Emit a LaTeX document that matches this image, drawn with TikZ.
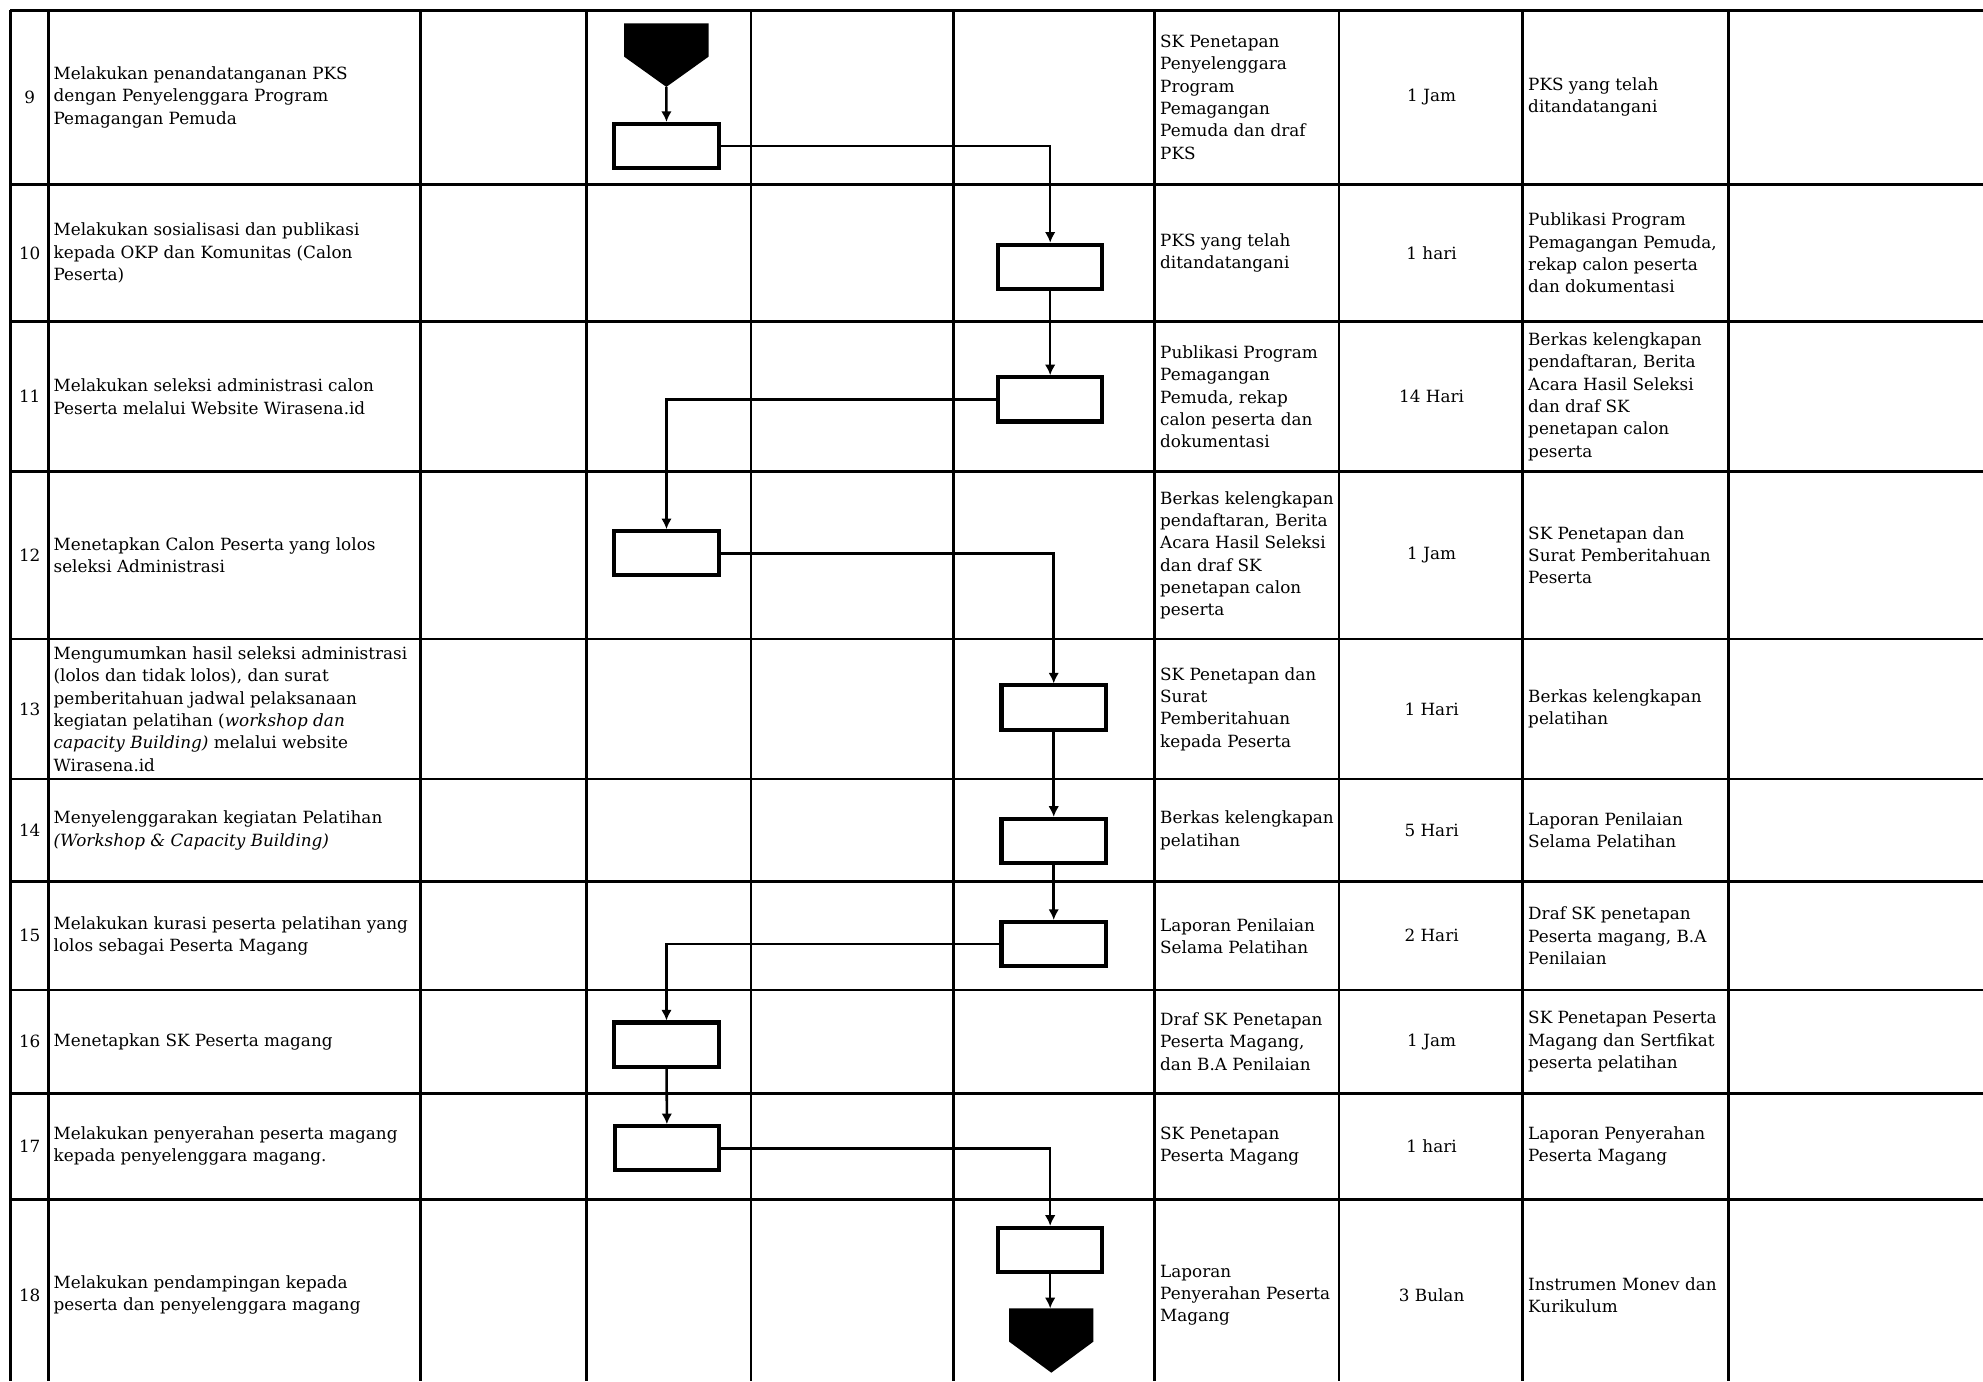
\documentclass[tikz,border=0pt]{standalone}
\usepackage{fontspec}
\setmainfont{DejaVu Serif}
\usetikzlibrary{arrows.meta,calc}

\begin{document}
\begin{tikzpicture}[
    x=0.5pt,y=-0.5pt,>={Latex[length=4.2pt,width=4.2pt]},
    grid/.style={line width=1.1pt},
    box/.style={rectangle,draw,line width=1.6pt,minimum width=41.3pt,minimum height=17.5pt,inner sep=0pt},
    txt/.style={anchor=west,align=left,inner sep=0pt,font=\fontsize{6.65}{8.8}\selectfont},
    ctr/.style={align=center,inner sep=0pt,font=\fontsize{6.65}{8.8}\selectfont},
    offpage/.style={fill=black}]
    \useasboundingbox (0,0) rectangle (1568,1092);

    % table
    \foreach \gx in {8,38.3,332.7,463.8,593.8,753.8,912.9,1058.7,1204.1,1366.9}
      \draw[grid] (\gx,8) -- (\gx,1092);
    \foreach \gy in {8,145.8,254.3,373,505.3,616,697.1,782.8,864.5,948.3}
      \draw[grid] (8,\gy) -- (1568,\gy);

    % row numbers
    \node[ctr] (n9)  at (23.5,76.9)  {9};
    \node[ctr] (n10) at (23.5,200)   {10};
    \node[ctr] (n11) at (23.5,313.7) {11};
    \node[ctr] (n12) at (23.5,439.2) {12};
    \node[ctr] (n13) at (23.5,560.7) {13};
    \node[ctr] (n14) at (23.5,656.6) {14};
    \node[ctr] (n15) at (23.5,740)   {15};
    \node[ctr] (n16) at (23.5,823.7) {16};
    \node[ctr] (n17) at (23.5,906.4) {17};
    \node[ctr] (n18) at (23.5,1024)  {18};

    % kegiatan
    \node[txt] (K9)  at (42,76.9)  {Melakukan penandatanganan PKS\\dengan Penyelenggara Program\\Pemagangan Pemuda};
    \node[txt] (K10) at (42,200)   {Melakukan sosialisasi dan publikasi\\kepada OKP dan Komunitas (Calon\\Peserta)};
    \node[txt] (K11) at (42,313.7) {Melakukan seleksi administrasi calon\\Peserta melalui Website Wirasena.id};
    \node[txt] (K12) at (42,439.2) {Menetapkan Calon Peserta yang lolos\\seleksi Administrasi};
    \node[txt] (K13) at (42,560.7) {Mengumumkan hasil seleksi administrasi\\(lolos dan tidak lolos), dan surat\\pemberitahuan jadwal pelaksanaan\\kegiatan pelatihan (\textit{workshop dan}\\\textit{capacity Building)} melalui website\\Wirasena.id};
    \node[txt] (K14) at (42,656.6) {Menyelenggarakan kegiatan Pelatihan\\\textit{(Workshop \& Capacity Building)}};
    \node[txt] (K15) at (42,740)   {Melakukan kurasi peserta pelatihan yang\\lolos sebagai Peserta Magang};
    \node[txt] (K16) at (42,823.7) {Menetapkan SK Peserta magang};
    \node[txt] (K17) at (42,906.4) {Melakukan penyerahan peserta magang\\kepada penyelenggara magang.};
    \node[txt] (K18) at (42,1024)  {Melakukan pendampingan kepada\\peserta dan penyelenggara magang};

    % kelengkapan
    \node[txt] (L9)  at (917,76.9)  {SK Penetapan\\Penyelenggara\\Program\\Pemagangan\\Pemuda dan draf\\PKS};
    \node[txt] (L10) at (917,200)   {PKS yang telah\\ditandatangani};
    \node[txt] (L11) at (917,313.7) {Publikasi Program\\Pemagangan\\Pemuda, rekap\\calon peserta dan\\dokumentasi};
    \node[txt] (L12) at (917,439.2) {Berkas kelengkapan\\pendaftaran, Berita\\Acara Hasil Seleksi\\dan draf SK\\penetapan calon\\peserta};
    \node[txt] (L13) at (917,560.7) {SK Penetapan dan\\Surat\\Pemberitahuan\\kepada Peserta};
    \node[txt] (L14) at (917,656.6) {Berkas kelengkapan\\pelatihan};
    \node[txt] (L15) at (917,740)   {Laporan Penilaian\\Selama Pelatihan};
    \node[txt] (L16) at (917,823.7) {Draf SK Penetapan\\Peserta Magang,\\dan B.A Penilaian};
    \node[txt] (L17) at (917,906.4) {SK Penetapan\\Peserta Magang};
    \node[txt] (L18) at (917,1024)  {Laporan\\Penyerahan Peserta\\Magang};

    % waktu
    \node[ctr] (W9)  at (1132,76.9)  {1 Jam};
    \node[ctr] (W10) at (1132,200)   {1 hari};
    \node[ctr] (W11) at (1132,313.7) {14 Hari};
    \node[ctr] (W12) at (1132,439.2) {1 Jam};
    \node[ctr] (W13) at (1132,560.7) {1 Hari};
    \node[ctr] (W14) at (1132,656.6) {5 Hari};
    \node[ctr] (W15) at (1132,740)   {2 Hari};
    \node[ctr] (W16) at (1132,823.7) {1 Jam};
    \node[ctr] (W17) at (1132,906.4) {1 hari};
    \node[ctr] (W18) at (1132,1024)  {3 Bulan};

    % output
    \node[txt] (O9)  at (1208,76.9)  {PKS yang telah\\ditandatangani};
    \node[txt] (O10) at (1208,200)   {Publikasi Program\\Pemagangan Pemuda,\\rekap calon peserta\\dan dokumentasi};
    \node[txt] (O11) at (1208,313.7) {Berkas kelengkapan\\pendaftaran, Berita\\Acara Hasil Seleksi\\dan draf SK\\penetapan calon\\peserta};
    \node[txt] (O12) at (1208,439.2) {SK Penetapan dan\\Surat Pemberitahuan\\Peserta};
    \node[txt] (O13) at (1208,560.7) {Berkas kelengkapan\\pelatihan};
    \node[txt] (O14) at (1208,656.6) {Laporan Penilaian\\Selama Pelatihan};
    \node[txt] (O15) at (1208,740)   {Draf SK penetapan\\Peserta magang, B.A\\Penilaian};
    \node[txt] (O16) at (1208,823.7) {SK Penetapan Peserta\\Magang dan Sertfikat\\peserta pelatihan};
    \node[txt] (O17) at (1208,906.4) {Laporan Penyerahan\\Peserta Magang};
    \node[txt] (O18) at (1208,1024)  {Instrumen Monev dan\\Kurikulum};

    % off-page connectors
    \fill[offpage] (493.5,18.5) -- (560.3,18.5) -- (560.3,44.8) -- (526.9,68.7) -- (493.5,44.8) -- cycle;
    \coordinate (S0) at (526.9,68.7);
    \fill[offpage] (798,1034.5) -- (864.5,1034.5) -- (864.5,1060.9) -- (831.3,1085.4) -- (798,1060.9) -- cycle;
    \coordinate (E0) at (830.4,1034.5);

    % process boxes
    \node[box] (B9)  at (527,115.5)   {};
    \node[box] (B10) at (830.4,211)   {};
    \node[box] (B11) at (830.4,315.8) {};
    \node[box] (B12) at (527,437.5)   {};
    \node[box] (B13) at (833.2,559.5) {};
    \node[box] (B14) at (833.2,665)   {};
    \node[box] (B15) at (833.2,746.5) {};
    \node[box] (B16) at (527,826)     {};
    \node[box] (B17) at (527.4,908)   {};
    \node[box] (B18) at (830.4,988.4) {};

    \draw[style={->},line width=1pt] (S0) -- (B9.north);
    \draw[style={->},line width=1pt] (B9.east) -| (B10.north);
    \draw[style={->},line width=1pt] (B10) -- (B11);
    \draw[style={->},line width=1pt] (B11.west) -| (B12.north);
    \draw[style={->},line width=1pt] (B12.east) -| (B13.north);
    \draw[style={->},line width=1pt] (B13) -- (B14);
    \draw[style={->},line width=1pt] (B14) -- (B15);
    \draw[style={->},line width=1pt] (B15.west) -| (B16.north);
    \draw[style={->},line width=1pt] (B16) -- (B17);
    \draw[style={->},line width=1pt] (B17.east) -| (B18.north);
    \draw[style={->},line width=1pt] (B18) -- (E0);
  \end{tikzpicture}
\end{document}
